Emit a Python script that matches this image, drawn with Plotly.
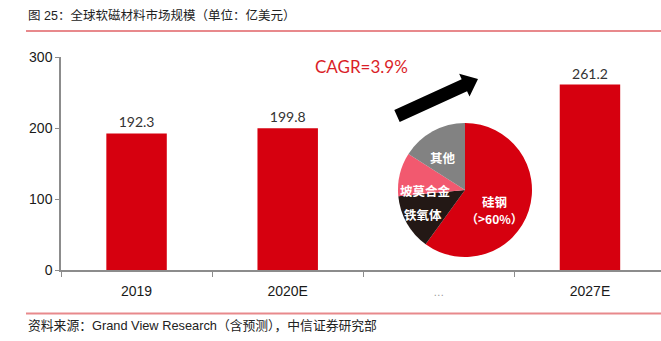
import plotly.graph_objects as go
import math

# ---------------- data ----------------
years = ["2019", "2020E", "…", "2027E"]
market_size = [192.3, 199.8, None, 261.2]          # 亿美元
y_ticks = [0, 100, 200, 300]

pie_labels = ["硅钢", "铁氧体", "坡莫合金", "其他"]
pie_values = [60.0, 13.5, 10.5, 16.0]
pie_share_note = "（>60%）"

title_text = "图 25：全球软磁材料市场规模（单位：亿美元）"
source_text = "资料来源：Grand View Research（含预测），中信证券研究部"
cagr_text = "CAGR=3.9%"

# ---------------- style ----------------
W, H = 661, 341
ML, MR, MT, MB = 61, 0, 57, 71
PW, PH = W - ML - MR, H - MT - MB
RED = "#D6000F"
AXIS = "#8c8c8c"
RULE = "#E8898C"
pie_colors = ["#D6000F", "#231815", "#F2596F", "#828282"]
CJK = "Liberation Sans, Noto Sans CJK SC"


def px_x(px):
    return (px - ML) / PW


def px_y(py):
    return (H - MB - py) / PH


fig = go.Figure()

fig.add_trace(go.Bar(
    x=years, y=market_size, width=0.4,
    marker=dict(color=RED, line=dict(width=0)),
    text=[("" if v is None else f"{v:.1f}") for v in market_size],
    textposition="outside",
    textfont=dict(family="Lato", size=14, color="#333333"),
    cliponaxis=False, hoverinfo="skip", showlegend=False,
))

fig.add_trace(go.Pie(
    labels=pie_labels, values=pie_values, sort=False,
    direction="clockwise", rotation=0,
    marker=dict(colors=pie_colors, line=dict(width=0)),
    textinfo="none", hoverinfo="skip", showlegend=False,
    domain=dict(x=[px_x(398), px_x(532)], y=[px_y(257), px_y(123)]),
))

tick_text = [t if t != "…" else "<span style='color:#9a9a9a;font-size:11px'>…</span>" for t in years]

fig.update_layout(
    width=W, height=H, autosize=False,
    margin=dict(l=ML, r=MR, t=MT, b=MB, pad=0),
    paper_bgcolor="white", plot_bgcolor="white",
    showlegend=False,
    xaxis=dict(
        type="category", categoryorder="array", categoryarray=years,
        range=[-0.5, 3.47],
        tickmode="array", tickvals=years, ticktext=tick_text,
        showline=True, linecolor=AXIS, linewidth=1.5,
        ticks="outside", tickson="boundaries", ticklen=5, tickcolor=AXIS, tickwidth=1,
        ticklabelstandoff=7,
        tickfont=dict(family="Liberation Sans", size=14, color="#1a1a1a"),
        showgrid=False, zeroline=False, fixedrange=True,
    ),
    yaxis=dict(
        range=[0, 300], tickmode="array", tickvals=y_ticks,
        showline=True, linecolor=AXIS, linewidth=1.5,
        ticks="outside", ticklen=4, tickcolor=AXIS, tickwidth=1,
        tickfont=dict(family="Liberation Sans", size=14, color="#1a1a1a"),
        showgrid=False, zeroline=False, fixedrange=True,
    ),
)

annotations = [
    dict(text=title_text, x=px_x(26), y=px_y(15), xanchor="left", yanchor="middle",
         font=dict(family=CJK, size=12.5, color="#222222")),
    dict(text=source_text, x=px_x(26), y=px_y(325), xanchor="left", yanchor="middle",
         font=dict(family=CJK, size=12.8, color="#222222")),
    dict(text=cagr_text, x=px_x(361), y=px_y(66), xanchor="center", yanchor="middle",
         font=dict(family="Lato", size=17, color="#DA1E28")),
]
pie_label_pos = [(494, 201), (423, 214), (425, 190), (443, 157)]
for txt, (lx, ly) in zip(pie_labels, pie_label_pos):
    annotations.append(dict(
        text=txt, x=px_x(lx), y=px_y(ly), xanchor="center", yanchor="middle",
        font=dict(family="Noto Sans CJK SC", size=12.5, color="white", weight="bold"),
    ))
annotations.append(dict(
    text=pie_share_note, x=px_x(494), y=px_y(218), xanchor="center", yanchor="middle",
    font=dict(family="Noto Sans CJK SC", size=12, color="white", weight="bold"),
))
for a in annotations:
    a.update(xref="paper", yref="paper", showarrow=False)
fig.update_layout(annotations=annotations)

# decorative arrow (pixel-based polygon)
tail, tip = (397, 116), (478, 79)
dx, dy = tip[0] - tail[0], tip[1] - tail[1]
L = math.hypot(dx, dy)
ux, uy = dx / L, dy / L
nx, ny = -uy, ux
sw, hw, hl = 6.5, 12.5, 15
bx, by = tip[0] - hl * ux, tip[1] - hl * uy
pts = [
    (tail[0] + sw * nx, tail[1] + sw * ny),
    (bx + sw * nx, by + sw * ny),
    (bx + hw * nx, by + hw * ny),
    tip,
    (bx - hw * nx, by - hw * ny),
    (bx - sw * nx, by - sw * ny),
    (tail[0] - sw * nx, tail[1] - sw * ny),
]
path = "M " + " L ".join(f"{px_x(px):.5f},{px_y(py):.5f}" for px, py in pts) + " Z"

fig.update_layout(shapes=[
    dict(type="path", path=path, xref="paper", yref="paper",
         fillcolor="black", line=dict(width=0)),
    dict(type="line", x0=px_x(26), x1=px_x(661), y0=px_y(31), y1=px_y(31),
         xref="paper", yref="paper", line=dict(color=RULE, width=2)),
    dict(type="line", x0=px_x(26), x1=px_x(661), y0=px_y(313.5), y1=px_y(313.5),
         xref="paper", yref="paper", line=dict(color=RULE, width=2)),
])

fig.write_html("out.html")
